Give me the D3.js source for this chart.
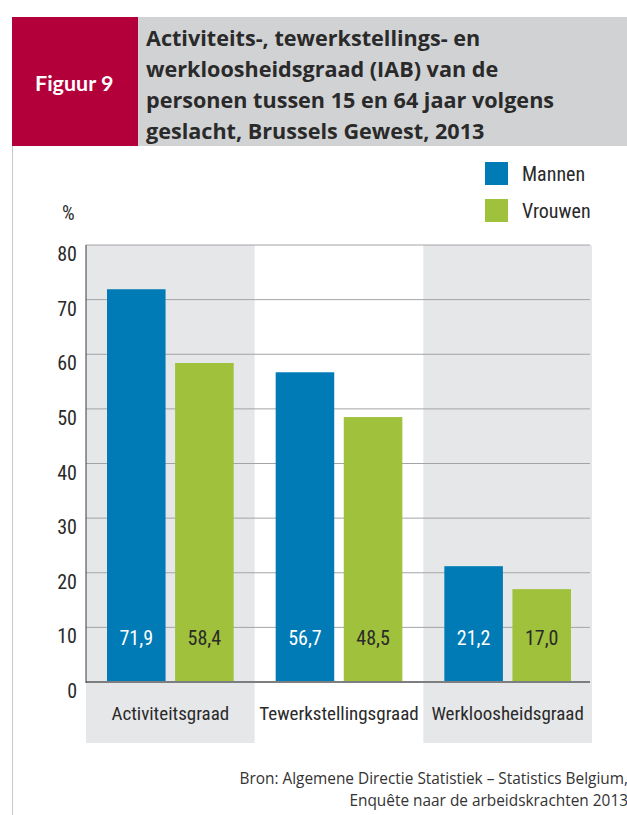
<!DOCTYPE html>
<html>
<head>
<meta charset="utf-8">
<script src="https://cdn.jsdelivr.net/npm/d3@7"></script>
<style>
  body { margin: 0; background: #fff; }
  svg text { font-family: "Liberation Sans Narrow", "Arial Narrow", "Roboto Condensed", sans-serif; }
</style>
</head>
<body>
<svg id="chart"></svg>
<script>
const categories = ['Activiteitsgraad', 'Tewerkstellingsgraad', 'Werkloosheidsgraad'];
const series = ['Mannen', 'Vrouwen'];
const mannen = [71.9, 56.7, 21.2];
const vrouwen = [58.4, 48.5, 17.0];
const yTicks = [0, 10, 20, 30, 40, 50, 60, 70, 80];
const titleLines = [
  'Activiteits-, tewerkstellings- en',
  'werkloosheidsgraad (IAB) van de',
  'personen tussen 15 en 64 jaar volgens',
  'geslacht, Brussels Gewest, 2013'
];
const sourceLines = [
  'Bron: Algemene Directie Statistiek \u2013 Statistics Belgium,',
  'Enquête naar de arbeidskrachten 2013'
];

const width = 627, height = 815;
const colors = {Mannen: '#007bb6', Vrouwen: '#9fc13b'};

const svg = d3.select('#chart').attr('width', width).attr('height', height);

// header
svg.append('line').attr('x1', 12.5).attr('x2', 12.5).attr('y1', 17).attr('y2', height)
  .attr('stroke', '#c8c9cb').attr('stroke-width', 1);
svg.append('rect').attr('x', 12).attr('y', 17).attr('width', 126).attr('height', 129).attr('fill', '#b4003a');
svg.append('rect').attr('x', 138).attr('y', 17).attr('width', width - 138).attr('height', 129).attr('fill', '#d1d2d4');
svg.append('text').attr('x', 35).attr('y', 91).attr('fill', '#fff')
  .style('font-family', 'Lato, sans-serif')
  .style('font-size', '21.5px').style('font-weight', 'bold').text('Figuur 9');
svg.append('g').selectAll('text').data(titleLines).join('text')
  .attr('x', 146).attr('y', (d, i) => 46 + i * 31)
  .style('font-family', '"Open Sans", sans-serif')
  .attr('fill', '#2a2a2a').style('font-size', '21.6px').style('font-weight', 'bold')
  .text(d => d);

// scales
const x0 = d3.scaleBand().domain(categories).range([86, 592]);
const x1 = d3.scaleBand().domain(series).range([21, x0.bandwidth() - 21]).paddingInner(0.14);
const y = d3.scaleLinear().domain([0, 80]).range([682, 245]);

// category panels
svg.append('g').selectAll('rect').data(categories.filter((d, i) => i !== 1)).join('rect')
  .attr('x', d => x0(d)).attr('y', y(80)).attr('width', x0.bandwidth()).attr('height', 743 - y(80))
  .attr('fill', '#e6e7e9');

// grid
svg.append('g').selectAll('line').data(yTicks.filter(d => d > 0)).join('line')
  .attr('x1', 86).attr('x2', 590).attr('y1', d => y(d)).attr('y2', d => y(d))
  .attr('stroke', '#a3a4a6').attr('stroke-width', 1);

// y tick labels
svg.append('g').selectAll('text').data(yTicks).join('text')
  .attr('x', 77).attr('y', d => y(d) + 16).attr('text-anchor', 'end')
  .attr('fill', '#2a2a2a').style('font-size', '20px').text(d => d);
svg.append('text').attr('x', 62).attr('y', 220).attr('fill', '#2a2a2a').style('font-size', '20px').text('%');

// bars
const rows = categories.map((c, i) => ({cat: c, values: [
  {key: 'Mannen', value: mannen[i]}, {key: 'Vrouwen', value: vrouwen[i]}]}));
const groups = svg.append('g').selectAll('g').data(rows).join('g')
  .attr('transform', d => `translate(${x0(d.cat)},0)`);
groups.selectAll('rect').data(d => d.values).join('rect')
  .attr('x', d => x1(d.key)).attr('width', x1.bandwidth())
  .attr('y', d => y(d.value)).attr('height', d => y(0) - y(d.value))
  .attr('fill', d => colors[d.key]);
groups.selectAll('text').data(d => d.values).join('text')
  .attr('x', d => x1(d.key) + x1.bandwidth() / 2).attr('y', 645)
  .attr('text-anchor', 'middle').style('font-size', '20px')
  .attr('fill', d => d.key === 'Mannen' ? '#fff' : '#2a2a2a')
  .text(d => d3.format('.1f')(d.value).replace('.', ','));

// axes
svg.append('line').attr('x1', 86).attr('x2', 590).attr('y1', y(0)).attr('y2', y(0))
  .attr('stroke', '#7d7e80').attr('stroke-width', 2);
svg.append('line').attr('x1', 86).attr('x2', 86).attr('y1', y(80)).attr('y2', y(0) + 1)
  .attr('stroke', '#3a3a3a').attr('stroke-width', 1);

// category labels
svg.append('g').selectAll('text').data(categories).join('text')
  .attr('x', d => x0(d) + x0.bandwidth() / 2).attr('y', 720).attr('text-anchor', 'middle')
  .attr('fill', '#2a2a2a').style('font-size', '19px').text(d => d);

// legend
const legend = svg.append('g').selectAll('g').data(series).join('g')
  .attr('transform', (d, i) => `translate(485,${162 + i * 37})`);
legend.append('rect').attr('width', 23).attr('height', 23).attr('fill', d => colors[d]);
legend.append('text').attr('x', 37).attr('y', 19).attr('fill', '#2a2a2a').style('font-size', '20px').text(d => d);

// source
svg.append('g').selectAll('text').data(sourceLines).join('text')
  .attr('x', 628).attr('y', (d, i) => 784 + i * 22).attr('text-anchor', 'end')
  .attr('fill', '#333').style('font-size', '15.4px').style('font-family', '"Open Sans", sans-serif')
  .text(d => d);
</script>
</body>
</html>
